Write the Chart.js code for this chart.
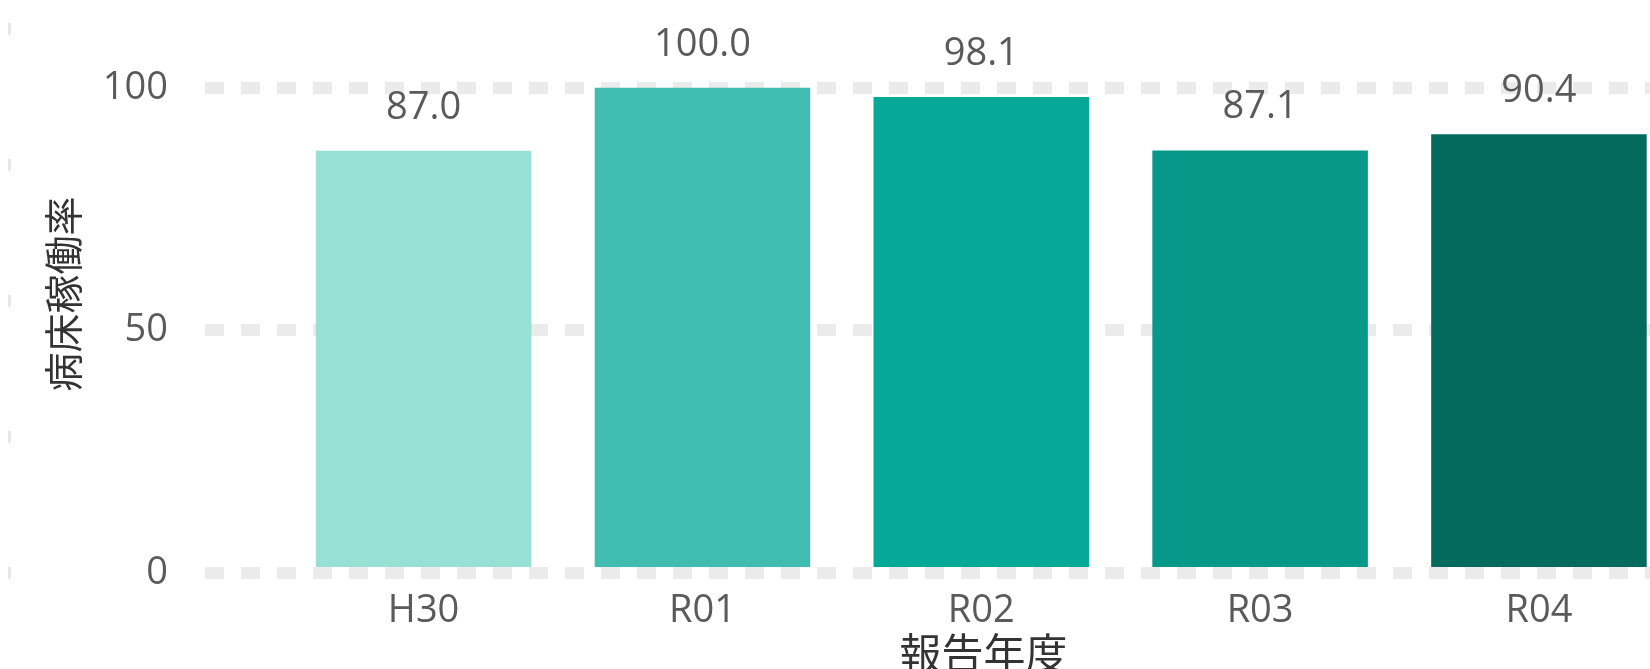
<!DOCTYPE html>
<html>
<head>
<meta charset="utf-8">
<script src="https://cdn.jsdelivr.net/npm/chart.js@4/dist/chart.umd.min.js"></script>
<style>
	html, body { margin: 0; padding: 0; overflow: hidden; background: #fff; }
	#chart { display: block; }
</style>
</head>
<body>
<canvas id="chart" width="1762" height="690"></canvas>
<script>
	"use strict";
	// 報告年度ごとの病床稼働率
	var aYears = ["H30", "R01", "R02", "R03", "R04"];
	var aRates = [87.0, 100.0, 98.1, 87.1, 90.4];
	var aColors = ["#98e0d4", "#40bcb0", "#06a898", "#069888", "#036b5e"];
	var aYTicks = [0, 50, 100];

	var sLatin = "'Open Sans', 'Noto Sans', sans-serif";
	var sCJK = "'Noto Sans CJK JP', 'Noto Sans', sans-serif";

	var aPoints = aRates.map(function(v, i) {
		return { x: i, y: v };
	});

	// values over the bars
	var oValueLabels = {
		id: "valueLabels",
		afterDatasetsDraw: function(chart) {
			var ctx = chart.ctx;
			var meta = chart.getDatasetMeta(0);
			ctx.save();
			ctx.font = "38px " + sLatin;
			ctx.fillStyle = "#5a5a5a";
			ctx.textAlign = "center";
			ctx.textBaseline = "middle";
			meta.data.forEach(function(bar, i) {
				ctx.fillText(aRates[i].toFixed(1), bar.x, bar.y - 43);
			});
			ctx.restore();
		}
	};

	// faint dashed edge at the far left
	var oEdge = {
		id: "edge",
		beforeDraw: function(chart) {
			var ctx = chart.ctx;
			var y0 = chart.scales.y.getPixelForValue(0);
			ctx.save();
			ctx.strokeStyle = "#e6e6e6";
			ctx.lineWidth = 3;
			ctx.setLineDash([12, 124]);
			ctx.beginPath();
			ctx.moveTo(9.5, y0 + 6);
			ctx.lineTo(9.5, 0);
			ctx.stroke();
			ctx.restore();
		}
	};

	var chart = new Chart(document.getElementById("chart").getContext("2d"), {
		type: "bar",
		data: {
			datasets: [{
				data: aPoints,
				backgroundColor: aColors,
				borderWidth: 0,
				categoryPercentage: 1,
				barPercentage: 0.773
			}]
		},
		options: {
			responsive: false,
			animation: false,
			layout: { padding: { top: 15, left: 0, right: 0, bottom: 0 } },
			plugins: {
				legend: { display: false },
				tooltip: { enabled: false }
			},
			scales: {
				x: {
					type: "linear",
					offset: false,
					min: -0.784,
					max: 4.8,
					afterFit: function(scale) { scale.height = 117; },
					grid: { display: false, drawTicks: false },
					border: { display: false },
					ticks: {
						stepSize: 1,
						includeBounds: false,
						autoSkip: false,
						maxRotation: 0,
						padding: 15,
						color: "#5a5a5a",
						font: { family: sLatin, size: 38 },
						callback: function(v) {
							return Number.isInteger(v) && aYears[v] !== undefined ? aYears[v] : "";
						}
					},
					title: {
						display: true,
						text: "報告年度",
						color: "#333",
						font: { family: sCJK, size: 42 },
						padding: { top: 0, bottom: 12 }
					}
				},
				y: {
					min: 0,
					max: 115,
					afterFit: function(scale) {
						scale.width = 205;
						scale.paddingTop = 0;
						scale.paddingBottom = 0;
					},
					afterBuildTicks: function(scale) {
						scale.ticks = aYTicks.map(function(v) { return { value: v }; });
					},
					grid: { color: "#ebebeb", lineWidth: 12, drawTicks: false },
					border: { display: false, dash: [19, 17] },
					ticks: {
						padding: 37,
						color: "#5a5a5a",
						font: { family: sLatin, size: 38 }
					},
					title: {
						display: true,
						text: "病床稼働率",
						color: "#333",
						font: { family: sCJK, size: 39 },
						padding: { top: 40, bottom: 0 }
					}
				}
			}
		},
		plugins: [oEdge, oValueLabels]
	});
</script>
</body>
</html>
